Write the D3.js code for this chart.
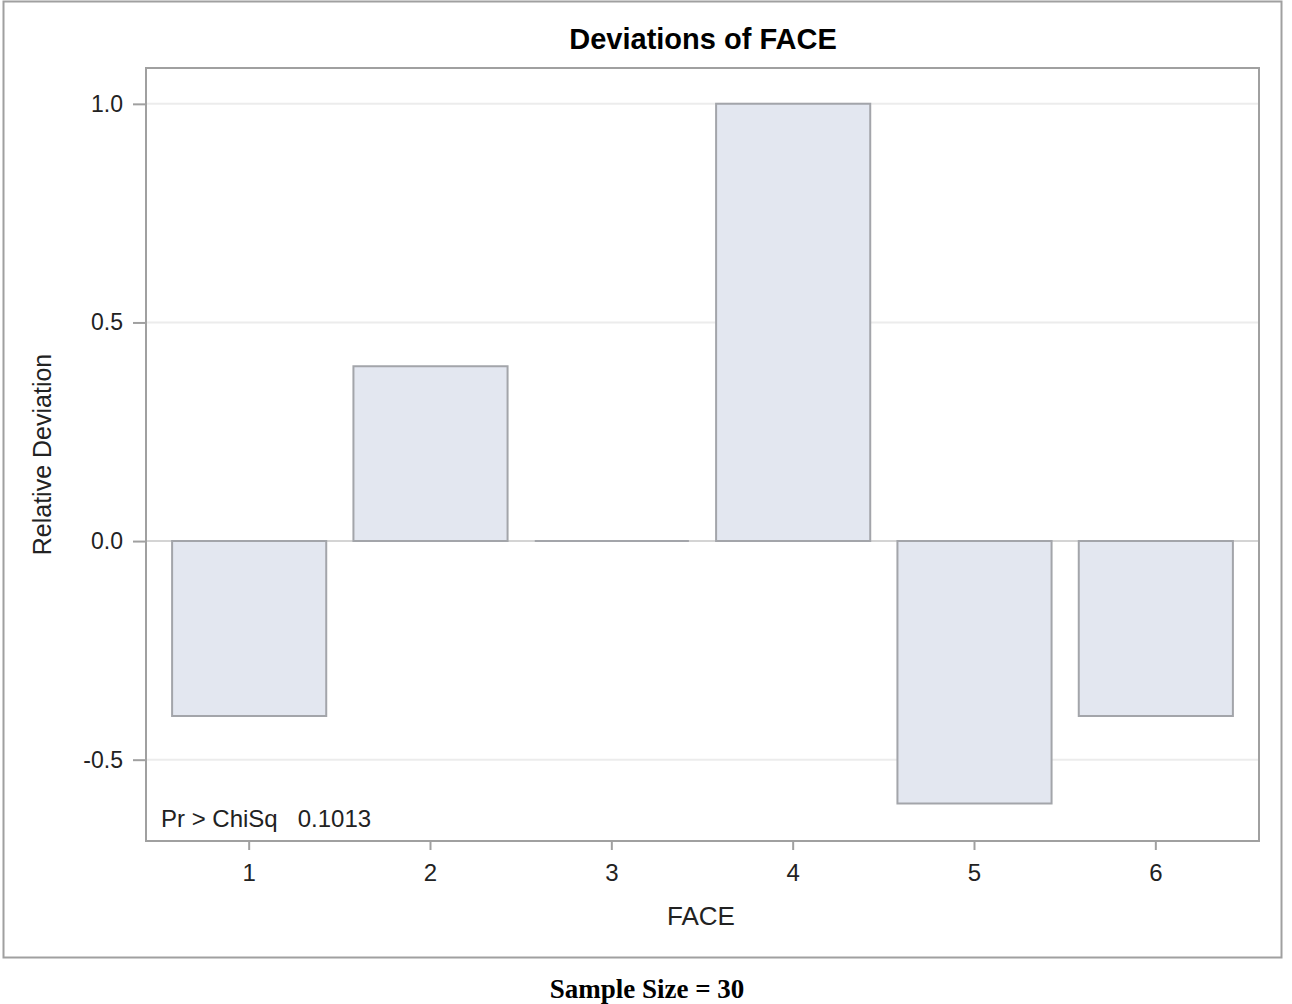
<!DOCTYPE html>
<html>
<head>
<meta charset="utf-8">
<script src="https://cdn.jsdelivr.net/npm/d3@7"></script>
<style>
  body { margin: 0; background: #fff; }
  text { font-family: "Liberation Sans", Arial, sans-serif; }
</style>
</head>
<body>
<div id="chart"></div>
<script>
// data
var faces = ['1', '2', '3', '4', '5', '6'];
var deviations = [-0.4, 0.4, 0.0, 1.0, -0.6, -0.4];
var yTicks = [-0.5, 0.0, 0.5, 1.0];

var width = 1292, height = 1004;
var plot = { left: 146, top: 68, right: 1259, bottom: 841 };

var svg = d3.select('#chart').append('svg')
    .attr('width', width)
    .attr('height', height);

// outer frame
svg.append('rect')
    .attr('x', 3.5).attr('y', 1.5)
    .attr('width', 1278).attr('height', 956)
    .attr('fill', 'none')
    .attr('stroke', '#a0a0a0')
    .attr('stroke-width', 2);

var x = d3.scaleBand()
    .domain(faces)
    .range([plot.left + 12.5, plot.right - 12.5])
    .paddingInner(0.15)
    .paddingOuter(0.075);

var y = d3.scaleLinear()
    .domain([-0.686, 1.082])
    .range([plot.bottom, plot.top]);

// grid lines
svg.append('g')
    .selectAll('line')
    .data(yTicks)
    .enter().append('line')
    .attr('x1', plot.left).attr('x2', plot.right)
    .attr('y1', function(d){ return y(d); })
    .attr('y2', function(d){ return y(d); })
    .attr('stroke', function(d){ return d === 0 ? '#d4d4d4' : '#ececec'; })
    .attr('stroke-width', 2);

// bars drawn as paths so a zero value still shows its outline
svg.append('g')
    .selectAll('path')
    .data(deviations)
    .enter().append('path')
    .attr('d', function(d, i){
      var x0 = x(faces[i]), x1 = x0 + x.bandwidth();
      var y0 = y(0), y1 = y(d);
      return 'M' + x0 + ',' + y0 + 'L' + x0 + ',' + y1 + 'L' + x1 + ',' + y1 + 'L' + x1 + ',' + y0 + 'Z';
    })
    .attr('fill', '#e3e7f0')
    .attr('stroke', '#a3a5aa')
    .attr('stroke-width', 2);

// plot frame
svg.append('rect')
    .attr('x', plot.left).attr('y', plot.top)
    .attr('width', plot.right - plot.left)
    .attr('height', plot.bottom - plot.top)
    .attr('fill', 'none')
    .attr('stroke', '#a0a0a0')
    .attr('stroke-width', 2);

// y axis
var yAxis = svg.append('g')
    .attr('transform', 'translate(' + plot.left + ',0)')
    .call(d3.axisLeft(y).tickValues(yTicks).tickSize(13).tickPadding(10));
yAxis.select('.domain').remove();
yAxis.selectAll('line').attr('stroke', '#a0a0a0').attr('stroke-width', 2);
yAxis.selectAll('text')
    .attr('fill', '#222')
    .style('font-size', '23px')
    .style('font-family', '"Liberation Sans", Arial, sans-serif')
    .text(function(d){ return d < 0 ? '-' + d3.format('.1f')(-d) : d3.format('.1f')(d); });

// x axis
var xAxis = svg.append('g')
    .attr('transform', 'translate(0,' + plot.bottom + ')')
    .call(d3.axisBottom(x).tickSize(9).tickPadding(14));
xAxis.select('.domain').remove();
xAxis.selectAll('line').attr('stroke', '#a0a0a0').attr('stroke-width', 2);
xAxis.selectAll('text')
    .attr('fill', '#222')
    .style('font-size', '24px')
    .style('font-family', '"Liberation Sans", Arial, sans-serif');

// titles
svg.append('text')
    .attr('x', 703).attr('y', 49)
    .attr('text-anchor', 'middle')
    .style('font-size', '29px')
    .style('font-weight', 'bold')
    .attr('fill', '#000')
    .text('Deviations of FACE');

svg.append('text')
    .attr('x', 701).attr('y', 925)
    .attr('text-anchor', 'middle')
    .style('font-size', '26px')
    .attr('fill', '#222')
    .text('FACE');

svg.append('text')
    .attr('transform', 'translate(51,' + ((plot.top + plot.bottom) / 2) + ') rotate(-90)')
    .attr('text-anchor', 'middle')
    .style('font-size', '25px')
    .attr('fill', '#222')
    .text('Relative Deviation');

svg.append('text')
    .attr('x', 161).attr('y', 827)
    .style('font-size', '24px')
    .attr('fill', '#222')
    .attr('xml:space', 'preserve')
    .text('Pr > ChiSq   0.1013');

// caption below frame
svg.append('text')
    .attr('x', 647).attr('y', 998)
    .attr('text-anchor', 'middle')
    .style('font-family', '"Liberation Serif", "Times New Roman", serif')
    .style('font-size', '27px')
    .style('font-weight', 'bold')
    .attr('fill', '#000')
    .text('Sample Size = 30');
</script>
</body>
</html>
